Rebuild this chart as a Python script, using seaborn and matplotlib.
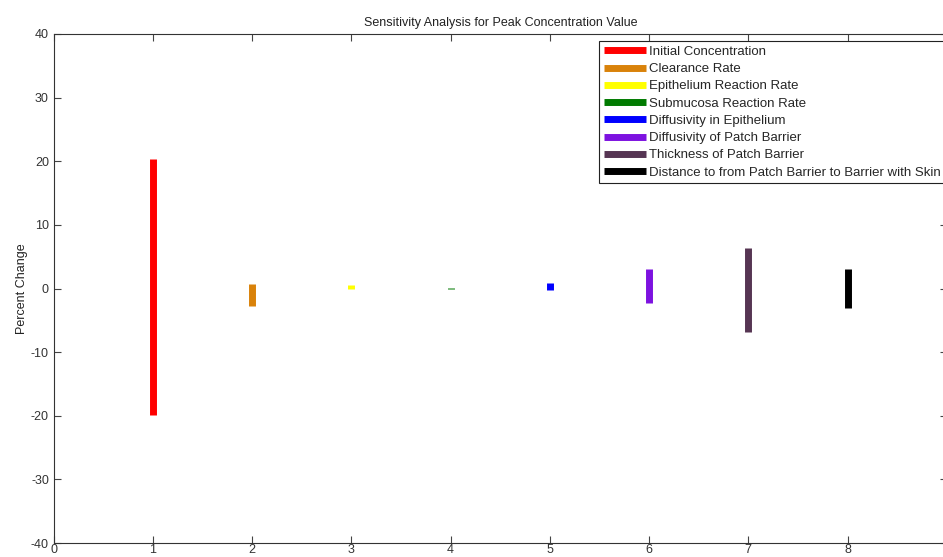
import matplotlib
matplotlib.use("Agg")
import matplotlib.pyplot as plt
import pandas as pd
import seaborn as sns

# parameter names (legend order)
params = [
    "Initial Concentration",
    "Clearance Rate",
    "Epithelium Reaction Rate",
    "Submucosa Reaction Rate",
    "Diffusivity in Epithelium",
    "Diffusivity of Patch Barrier",
    "Thickness of Patch Barrier",
    "Distance to from Patch Barrier to Barrier with Skin",
]
positions = [1, 2, 3, 4, 5, 6, 7, 8]
# percent change in peak concentration (upper / lower end of each range)
pct_high = [20.3, 0.7, 0.6, 0.05, 0.8, 3.1, 6.3, 3.1]
pct_low = [-19.8, -2.8, -0.1, -0.05, -0.2, -2.2, -6.9, -3.0]
colors = ["#ff0000", "#d9820a", "#ffff00", "#007a00", "#0000ff",
          "#7d12e0", "#563553", "#000000"]

rows = []
for name, xpos, hi, lo in zip(params, positions, pct_high, pct_low):
    rows.append({"Parameter": name, "x": xpos, "y": lo})
    rows.append({"Parameter": name, "x": xpos, "y": hi})
df = pd.DataFrame(rows)

sns.set_style("ticks")
plt.rcParams["font.family"] = ["Liberation Sans", "DejaVu Sans"]
plt.rcParams["axes.unicode_minus"] = False

fig = plt.figure(figsize=(9.43, 5.57), dpi=100)
ax = fig.add_axes([0.057, 0.025, 0.947, 0.914])

sns.lineplot(data=df, x="x", y="y", hue="Parameter", hue_order=params,
             palette=colors, estimator=None, sort=False, linewidth=5,
             solid_capstyle="butt", ax=ax)

ax.set_xlim(0, 9)
ax.set_ylim(-40, 40)
ax.set_xticks(range(0, 9))
ax.set_yticks(range(-40, 41, 10))
ax.tick_params(direction="in", top=True, right=True, length=5,
               labelsize=9, colors="#444444", labelcolor="#333333")
ax.tick_params(axis="x", pad=1)
for s in ax.spines.values():
    s.set_linewidth(0.8)
    s.set_color("#333333")
ax.set_xlabel("")
ax.set_ylabel("Percent Change", fontsize=9, color="#222222", labelpad=2)
ax.set_title("Sensitivity Analysis for Peak Concentration Value",
             fontsize=9, color="#222222", pad=6)

leg = ax.legend(loc="upper right", bbox_to_anchor=(0.998, 0.986), fontsize=9.5,
                frameon=True, fancybox=False, framealpha=1, edgecolor="#222222",
                handlelength=3.2, handletextpad=0.2, labelspacing=0.38,
                borderpad=0.35, borderaxespad=0)
for h in leg.get_lines():
    h.set_linewidth(5)
leg.get_frame().set_linewidth(0.8)

fig.savefig("out.png", dpi=100)
